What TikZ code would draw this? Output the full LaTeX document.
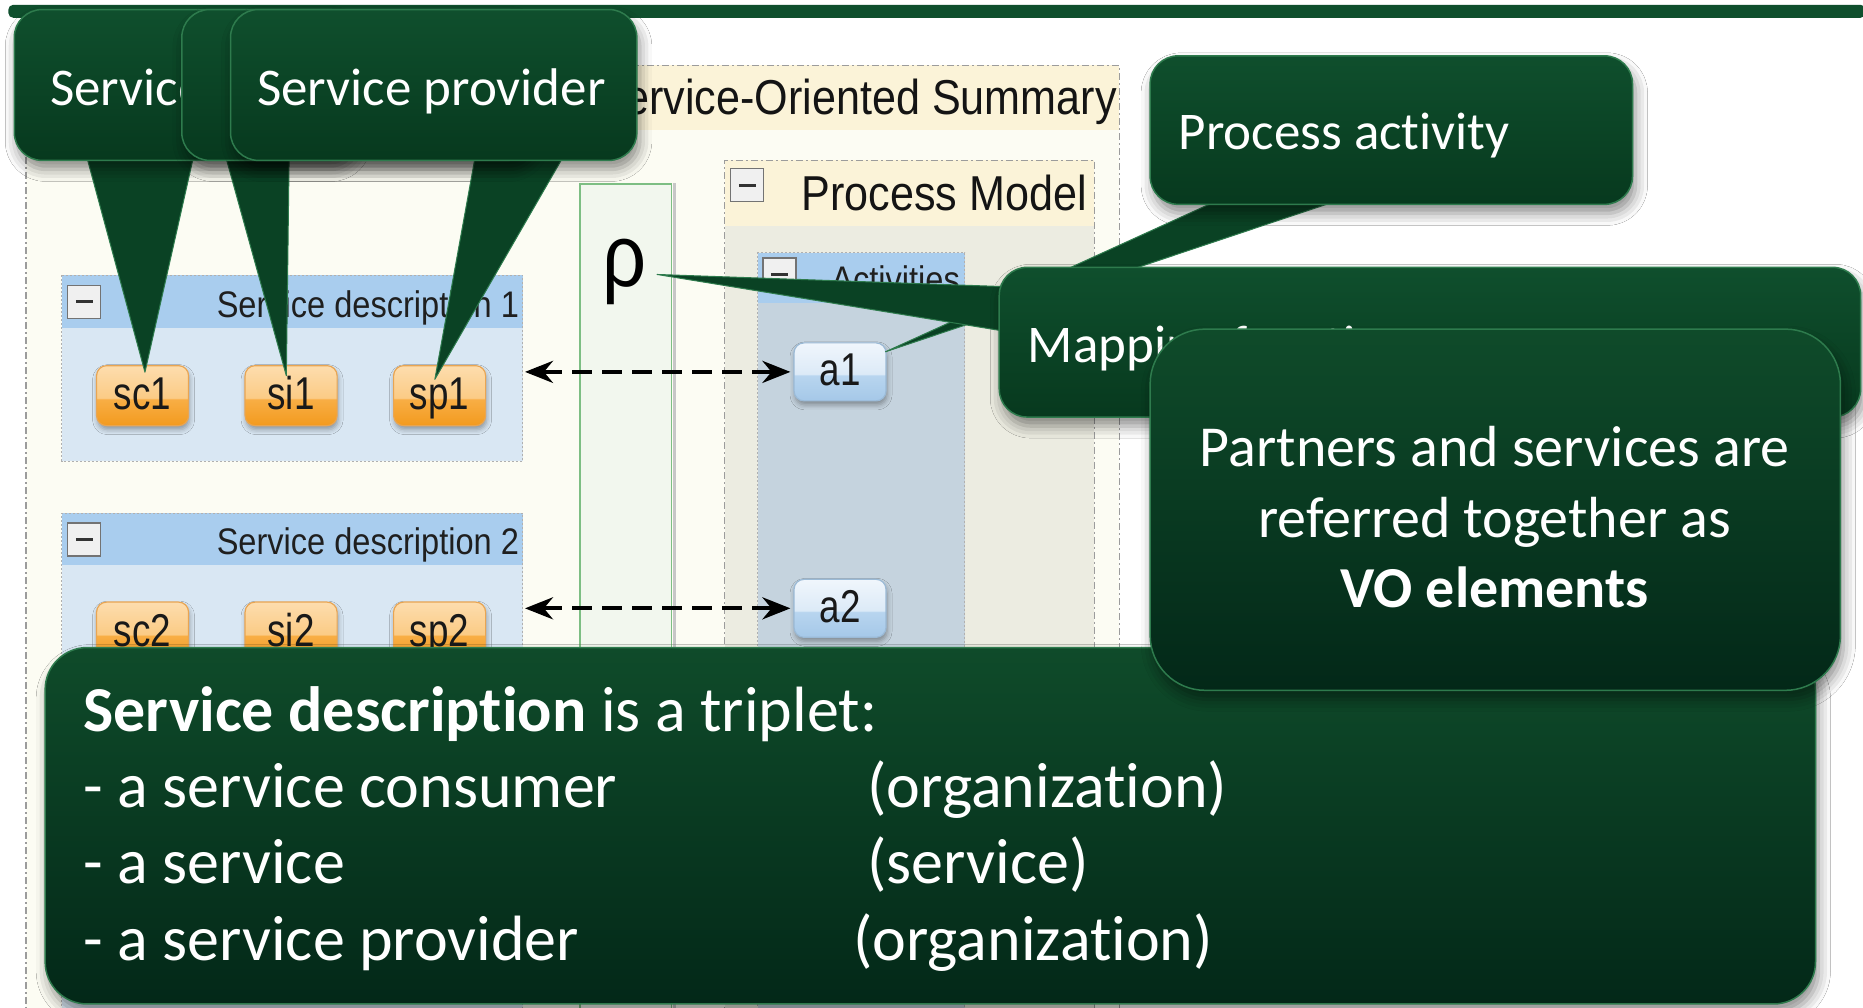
\documentclass[tikz,border=0pt]{standalone}
\usepackage{fontspec}
\setmainfont{Carlito}[Ligatures=NoCommon]
\newfontfamily\uifont[FakeStretch=0.88]{Liberation Sans}
\newfontfamily\tagfont[FakeStretch=0.8]{Liberation Sans}
\usetikzlibrary{shadows.blur,fit,arrows.meta,calc}

% callout greens
\definecolor{cgTop}{HTML}{0F4F2D}
\definecolor{cgBot}{HTML}{07391E}
\definecolor{cgTail}{HTML}{0A4224}
\definecolor{cgEdge}{HTML}{2E7B4D}
\definecolor{bbTop}{HTML}{0F4B2A}
\definecolor{bbBot}{HTML}{032818}
% editor panels
\definecolor{panelBody}{HTML}{FCFCF3}
\definecolor{panelHead}{HTML}{FBF3D8}
\definecolor{pmBody}{HTML}{ECECE1}
\definecolor{dashGrey}{HTML}{9C9C9C}
\definecolor{sdHead}{HTML}{A9CDEE}
\definecolor{sdBody}{HTML}{D9E7F3}
\definecolor{actBody}{HTML}{C5D3DE}
\definecolor{rhoFill}{HTML}{F2F7EE}
\definecolor{rhoLine}{HTML}{7DBE83}
% glossy tags
\definecolor{tagOT}{HTML}{FDDDAE}
\definecolor{tagOL}{HTML}{FBCB85}
\definecolor{tagOM}{HTML}{F8AE45}
\definecolor{tagOB}{HTML}{F39A1E}
\definecolor{tagOE}{HTML}{E9A552}
\definecolor{tagBT}{HTML}{F0F6FC}
\definecolor{tagBL}{HTML}{DCEAF7}
\definecolor{tagBM}{HTML}{B8D5EF}
\definecolor{tagBB}{HTML}{A5C8E8}
\definecolor{tagBE}{HTML}{9BBAD6}

\pgfdeclareverticalshading{orangegloss}{100bp}{color(0bp)=(tagOB); color(25bp)=(tagOB); color(47bp)=(tagOM); color(48bp)=(tagOL); color(75bp)=(tagOT); color(100bp)=(tagOT)}
\pgfdeclareverticalshading{bluegloss}{100bp}{color(0bp)=(tagBB); color(25bp)=(tagBB); color(47bp)=(tagBM); color(48bp)=(tagBL); color(75bp)=(tagBT); color(100bp)=(tagBT)}

\pgfdeclarelayer{tails}
\pgfdeclarelayer{callouts}
\pgfsetlayers{main,tails,callouts}

\begin{document}
\begin{tikzpicture}[x=1.1881pt, y=-1.1881pt,
  box/.style={fit={#1}, inner sep=0pt},
  panelborder/.style={draw=dashGrey, line width=1.2pt, dash pattern=on 7pt off 3pt on 2pt off 3pt},
  innerborder/.style={draw=dashGrey!80, line width=1pt, dash pattern=on 2pt off 2pt},
  uititle/.style={font=\uifont\fontsize{49}{56}\selectfont, text=black!92, inner sep=0pt, anchor=base east},
  sdtitle/.style={font=\uifont\fontsize{37}{42}\selectfont, text=black!88, inner sep=0pt, anchor=base east},
  minusbox/.style={draw=black!55, fill=black!6, line width=1.2pt, minimum size=33pt, inner sep=0pt,
     path picture={\draw[line width=3pt, black!80] ([xshift=8pt]path picture bounding box.west) -- ([xshift=-8pt]path picture bounding box.east);}},
  tagbase/.style={shade, rounded corners=10pt, minimum width=92pt, minimum height=60pt, inner sep=0pt, line width=1.2pt,
     text height=34pt, text depth=6pt,
     font=\tagfont\fontsize{46}{50}\selectfont, text=black!90,
     blur shadow={shadow xshift=1pt, shadow yshift=-4pt, shadow blur radius=5pt, shadow opacity=35}},
  otag/.style={tagbase, shading=orangegloss, draw=tagOE},
  btag/.style={tagbase, shading=bluegloss, draw=tagBE, minimum height=58pt},
  maparrow/.style={{Stealth[length=28pt,width=22pt]}-{Stealth[length=28pt,width=22pt]}, dash pattern=on 20pt off 10pt, line width=4pt, shorten <=2pt, shorten >=3pt},
  callout/.style={inner sep=0pt, rounded corners=#1, top color=cgTop, bottom color=cgBot, draw=cgEdge, line width=1.5pt,
     blur shadow={shadow xshift=3pt, shadow yshift=-9pt, shadow blur radius=12pt, shadow opacity=45}},
  callout/.default=28pt,
  tail/.style={fill=cgTail, draw=cgEdge, line width=1pt, line join=round},
  ctext/.style={text=white, font=\fontsize{53}{64}\selectfont, inner sep=0pt, anchor=base west},
  btext/.style={text=white, font=\fontsize{64}{77}\selectfont, inner sep=0pt, anchor=base west},
  ptext/.style={text=white, font=\fontsize{58}{70}\selectfont, inner sep=0pt, anchor=base},
]
\path[use as bounding box] (0,0) rectangle (1568,848);
\fill[white] (0,0) rectangle (1568,848);

% ---- service-oriented summary panel ----
\node[box={(22,55)(942,870)}, fill=panelBody] (sumpanel) {};
\fill[panelHead] (sumpanel.north west) rectangle ($(sumpanel.north east)+(0,55)$);
\draw[panelborder] (sumpanel.south west) -- (sumpanel.north west) -- (sumpanel.north east) -- (sumpanel.south east);
\node[uititle] (sumtitle) at (940,96) {Service-Oriented Summary};

% ---- mapping column ----
\node[box={(488,155)(565,870)}, fill=rhoFill, draw=rhoLine, line width=1.5pt] (rhocol) {};
\draw[black!22, line width=2.5pt] ([xshift=2.5pt]rhocol.north east) -- ([xshift=2.5pt]rhocol.south east);
\node[font=\uifont\fontsize{88}{90}\selectfont, inner sep=0pt, anchor=base] (rho) at (526,241) {ρ};

% ---- process model panel ----
\node[box={(610,135)(921,870)}, fill=pmBody] (pmpanel) {};
\fill[panelHead] (pmpanel.north west) rectangle ($(pmpanel.north east)+(0,55)$);
\draw[panelborder] (pmpanel.south west) -- (pmpanel.north west) -- (pmpanel.north east) -- (pmpanel.south east);
\node[minusbox] (pmminus) at (629,156) {};
\node[uititle] (pmtitle) at (915,177) {Process Model};

\node[box={(638,213)(812,870)}, fill=actBody] (actpanel) {};
\fill[sdHead] (actpanel.north west) rectangle ($(actpanel.north east)+(0,42)$);
\draw[innerborder] (actpanel.south west) -- (actpanel.north west) -- (actpanel.north east) -- (actpanel.south east);
\node[minusbox] (actminus) at (656,231) {};
\node[sdtitle] (acttitle) at (808,246) {Activities};

\node[btag] (a1) at (707,313) {a1};
\node[btag] (a2) at (707,512) {a2};

% ---- service descriptions ----
\node[box={(52,232)(440,388)}, fill=sdBody] (sd1) {};
\fill[sdHead] (sd1.north west) rectangle ($(sd1.north east)+(0,44)$);
\draw[innerborder] (sd1.north west) rectangle (sd1.south east);
\node[minusbox] (sd1minus) at (71,254) {};
\node[sdtitle] (sd1title) at (437,267) {Service description 1};
\node[otag] (sc1) at (120,333) {sc1};
\node[otag] (si1) at (245,333) {si1};
\node[otag] (sp1) at (370,333) {sp1};

\node[box={(52,432)(440,870)}, fill=sdBody] (sd2) {};
\fill[sdHead] (sd2.north west) rectangle ($(sd2.north east)+(0,44)$);
\draw[innerborder] (sd2.south west) -- (sd2.north west) -- (sd2.north east) -- (sd2.south east);
\node[minusbox] (sd2minus) at (71,454) {};
\node[sdtitle] (sd2title) at (437,467) {Service description 2};
\node[otag] (sc2) at (120,532) {sc2};
\node[otag] (si2) at (245,532) {si2};
\node[otag] (sp2) at (370,532) {sp2};

% ---- mappings between descriptions and activities ----
\draw[maparrow] (sd1.east |- a1.west) -- (a1.west);
\draw[maparrow] (sd2.east |- a2.west) -- (a2.west);

% ---- callout boxes ----
\begin{pgfonlayer}{callouts}
\node[box={(7,4)(1570,15)}, fill=cgTop, rounded corners=5pt] (topbar) {};

\node[callout, box={(12,8)(300,135)}] (c1) {};
\node[ctext] (c1text) at (42,89) {Service};
\node[callout, box={(153,8)(450,135)}] (c2) {};
\node[callout, box={(194,8)(536,135)}] (c3) {};
\node[ctext, anchor=base] (c3text) at (363,89) {Service provider};

\node[callout, box={(968,47)(1374,172)}] (pa) {};
\node[ctext] (patext) at (992,126) {Process activity};

\node[callout, box={(841,225)(1566,351)}] (map) {};
\node[ctext] (maptext) at (865,305) {Mapping function};

\node[callout=42pt, box={(38,545)(1528,845)}, top color=bbTop, bottom color=bbBot] (descbox) {};
\node[btext] (bl1) at (70,616) {\textbf{Service description} is a triplet:};
\node[btext] (bl2) at (70,680) {- a service consumer};
\node[btext] (bl3) at (70,744) {- a service};
\node[btext] (bl4) at (70,808) {- a service provider};
\node[btext] (br2) at (730,680) {(organization)};
\node[btext] (br3) at (730,744) {(service)};
\node[btext] (br4) at (718,808) {(organization)};

\node[callout=55pt, box={(968,277)(1549,581)}, top color=bbTop, bottom color=bbBot] (partbox) {};
\node[ptext] (p1) at (1258,393) {Partners and services are};
\node[ptext] (p2) at (1258,452) {referred together as};
\node[ptext] (p3) at (1258,511) {\textbf{VO elements}};
\end{pgfonlayer}

% ---- callout pointers ----
\begin{pgfonlayer}{tails}
\filldraw[tail] ($(c1.south west)+(61,-6)$) -- ($(sc1.north)+(2,6)$) -- ($(c1.south west)+(152,-6)$) -- cycle;
\filldraw[tail] ($(c2.south west)+(37,-6)$) -- ($(si1.north)+(-4,9)$) -- ($(c2.south west)+(91,-6)$) -- cycle;
\filldraw[tail] ($(c3.south west)+(207,-6)$) -- ($(sp1.north)+(-4,12)$) -- ($(c3.south west)+(282,-6)$) -- cycle;
\filldraw[tail] ($(pa.south west)+(62,-6)$) -- ($(a1.north east)+(-1,8)$) -- ($(pa.south west)+(165,-6)$) -- cycle;
\coordinate (rhotip) at ($(rho.base)+(27,-10)$);
\filldraw[tail] ($(map.north west)+(9,17)$) -- (rhotip) -- ($(map.north west)+(9,55)$) -- cycle;
\end{pgfonlayer}
\end{tikzpicture}
\end{document}
